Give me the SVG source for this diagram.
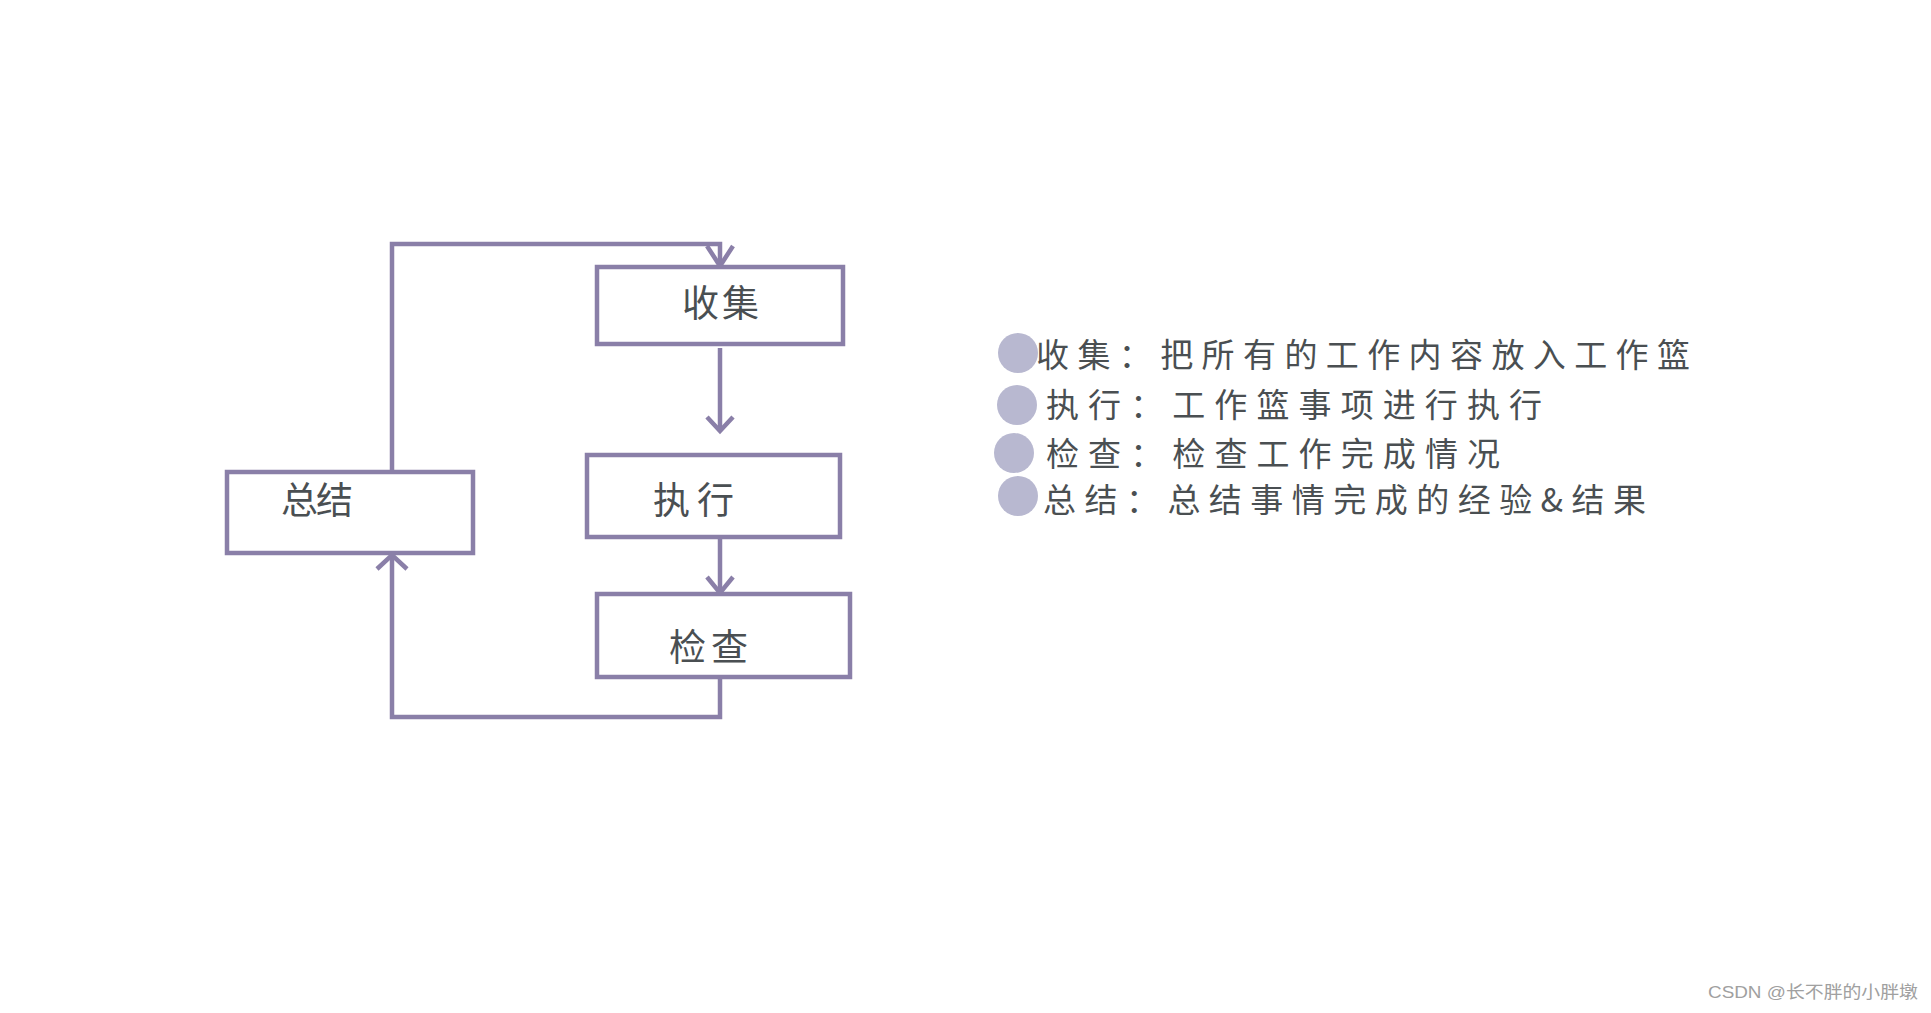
<svg xmlns="http://www.w3.org/2000/svg" width="1931" height="1013" viewBox="0 0 1931 1013">
<style>
.box{fill:#ffffff;stroke:#8a7fa8;stroke-width:4.5}
.ln{fill:none;stroke:#8a7fa8;stroke-width:4.5;stroke-linejoin:miter}
.lbl{font-family:"Noto Sans CJK SC","Noto Sans",sans-serif;font-size:37px;fill:#4a4f52}
.item{font-family:"Noto Sans CJK SC","Noto Sans",sans-serif;font-size:33px;fill:#4a4f52}
.dot{fill:#b8b8d0}
.wm{font-family:"Liberation Sans","Noto Sans CJK SC",sans-serif;font-size:17px;fill:#a0a0a0}
</style>
<rect width="1931" height="1013" fill="#ffffff"/>
<g id="connectors">
<path class="ln" d="M392,472 V244 H720 V265"/>
<path class="ln" d="M707,246 L720,266 L733,246"/>
<path class="ln" d="M720,348 V431"/>
<path class="ln" d="M707,417 L720,431 L733,417"/>
<path class="ln" d="M720,537 V594"/>
<path class="ln" d="M707,577 L720,593 L733,577"/>
<path class="ln" d="M720,677 V717 H392 V555"/>
<path class="ln" d="M377,569 L392,555 L407,569"/>
</g>
<g id="node-collect">
<rect class="box" x="597" y="267" width="246" height="77"/>
<text class="lbl" x="682" y="317" textLength="77" lengthAdjust="spacing">收集</text>
</g>
<g id="node-execute">
<rect class="box" x="587" y="455" width="253" height="82"/>
<text class="lbl" x="653" y="514" textLength="81" lengthAdjust="spacing">执行</text>
</g>
<g id="node-check">
<rect class="box" x="597" y="594" width="253" height="83"/>
<text class="lbl" x="669" y="661" textLength="79" lengthAdjust="spacing">检查</text>
</g>
<g id="node-summary">
<rect class="box" x="227" y="472" width="246" height="81"/>
<text class="lbl" x="281" y="514" textLength="72" lengthAdjust="spacing">总结</text>
</g>
<g id="legend">
<circle class="dot" cx="1018" cy="353" r="20"/>
<circle class="dot" cx="1017" cy="405" r="20"/>
<circle class="dot" cx="1014" cy="453" r="20"/>
<circle class="dot" cx="1018" cy="496" r="20"/>
<text class="item" x="1036" y="367" textLength="654" lengthAdjust="spacing">收集：把所有的工作内容放入工作篮</text>
<text class="item" x="1046" y="417" textLength="496" lengthAdjust="spacing">执行：工作篮事项进行执行</text>
<text class="item" x="1046" y="466" textLength="454" lengthAdjust="spacing">检查：检查工作完成情况</text>
<text class="item" x="1043" y="512" textLength="603" lengthAdjust="spacing">总结：总结事情完成的经验&amp;结果</text>
</g>
<text class="wm" x="1708" y="998" textLength="210" lengthAdjust="spacingAndGlyphs">CSDN @长不胖的小胖墩</text>
</svg>
